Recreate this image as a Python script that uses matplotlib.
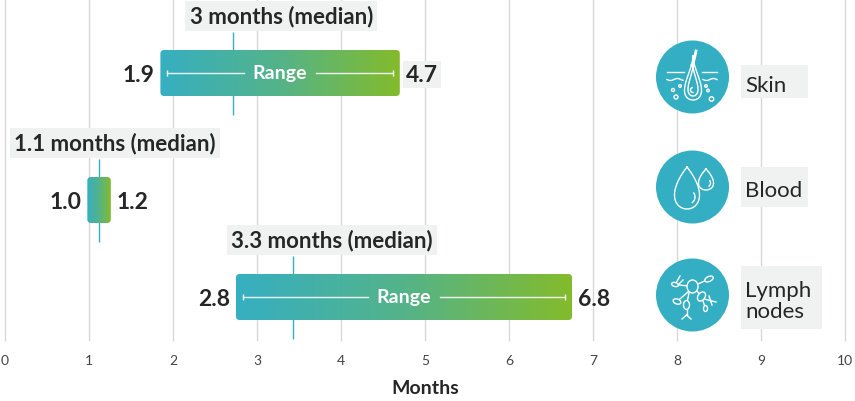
import numpy as np
import matplotlib.pyplot as plt
from matplotlib.patches import FancyBboxPatch, Circle, Ellipse, Rectangle
from matplotlib.colors import LinearSegmentedColormap

plt.rcParams['font.family'] = ['Lato', 'DejaVu Sans']

# data (months)
sites = ['Skin', 'Blood', 'Lymph\nnodes']
range_lo = [1.85, 0.98, 2.75]
range_hi = [4.70, 1.26, 6.75]
medians = [2.71, 1.12, 3.43]
lo_labels = ['1.9', '1.0', '2.8']
hi_labels = ['4.7', '1.2', '6.8']
median_labels = ['3 months (median)', '1.1 months (median)', '3.3 months (median)']
xticks = list(range(0, 11))

# layout (pixels, y down)
W, H = 855, 402
row_y = [74, 201, 298]
icon_y = [78, 188, 296]
label_x = [3.29, 1.31, 3.89]
PX = 84.0  # pixels per month
X0 = 5.0

teal = '#36afc2'
green = '#84bb2b'
icon_c = '#33aec3'
grid_c = '#d8d8d8'
box_c = '#f0f2f2'
dark = '#262626'
cmap = LinearSegmentedColormap.from_list('tg', [teal, '#54b389', green])

fig = plt.figure(figsize=(W / 100, H / 100), dpi=100)
ax = fig.add_axes([0, 0, 1, 1])
ax.axis('off')

ax.vlines(xticks, 0, 342, color=grid_c, lw=1, zorder=0)
for t in xticks:
    ax.text(t, 361, str(t), ha='center', va='center', fontsize=10, color='#444444')
ax.text(5, 389, 'Months', ha='center', va='center', fontsize=14, fontweight='bold', color=dark)

grad = np.linspace(0, 1, 256).reshape(1, -1)
for i in range(3):
    yc = row_y[i]
    lo, hi, med = range_lo[i], range_hi[i], medians[i]
    ax.vlines(med, yc - 41, yc + 42, color=teal, lw=1, zorder=1)
    bar = FancyBboxPatch((lo, yc - 23), hi - lo, 46,
                         boxstyle='round,pad=0,rounding_size=0.045',
                         mutation_aspect=PX, fc='none', ec='none', zorder=2)
    ax.add_patch(bar)
    im = ax.imshow(grad, cmap=cmap, extent=[lo, hi, yc + 23, yc - 23],
                   aspect='auto', zorder=2, interpolation='bilinear')
    im.set_clip_path(bar)

    # range marker inside wide bars
    if hi - lo > 1:
        a = lo + 7 / PX
        b = hi - 7 / PX
        mid = (lo + hi) / 2
        gap = 36 / PX
        ax.plot([a, mid - gap], [yc, yc], color='white', lw=1, alpha=0.9, zorder=3)
        ax.plot([mid + gap, b], [yc, yc], color='white', lw=1, alpha=0.9, zorder=3)
        ax.vlines([a, b], yc - 3, yc + 3, color='white', lw=1, alpha=0.9, zorder=3)
        ax.text(mid, yc, 'Range', ha='center', va='center', color='white',
                fontsize=14, fontweight='bold', zorder=4)

    ax.text(lo - 6 / PX, yc + 1.5, lo_labels[i], ha='right', va='center',
            fontsize=16.5, fontweight='bold', color=dark)
    hb = dict(boxstyle='square,pad=0.12', fc=box_c, ec='none') if i == 0 else None
    ax.text(hi + 6 / PX, yc + 1.5, hi_labels[i], ha='left', va='center',
            fontsize=16.5, fontweight='bold', color=dark, bbox=hb)
    ax.text(label_x[i], yc - 57, median_labels[i], ha='center', va='center',
            fontsize=16, fontweight='bold', color=dark,
            bbox=dict(boxstyle='square,pad=0.2', fc=box_c, ec='none'))

ax.set_xlim(-X0 / PX, (W - X0) / PX)
ax.set_ylim(H, 0)

# icons in a pixel-space overlay
ix = fig.add_axes([0, 0, 1, 1])
ix.set_xlim(0, W)
ix.set_ylim(H, 0)
ix.axis('off')
ix.patch.set_alpha(0)

cx, r = 692.5, 36.5
lw_i = 1.0
wc = 'white'
for cy in icon_y:
    ix.add_patch(Circle((cx, cy), r, fc=icon_c, ec='none', zorder=1))


def drop(x, top, bottom, half_w, m=1.0):
    tt = np.linspace(0, 2 * np.pi, 120)
    s = (bottom - top) / 2
    shape = np.sin(tt) * np.abs(np.sin(tt / 2)) ** m
    shape = shape / np.abs(shape).max()
    return x + half_w * shape, top + s - s * np.cos(tt)


# skin icon
ix.plot([667, 684], [72.7, 72.7], color=wc, lw=lw_i, zorder=3)
ix.plot([702, 717], [72.7, 72.7], color=wc, lw=lw_i, zorder=3)
xs = np.linspace(667, 683, 30)
ix.plot(xs, 80.5 + 1.0 * np.sin((xs - 667) / 2.2), color=wc, lw=lw_i, zorder=3)
xs = np.linspace(703, 717, 30)
ix.plot(xs, 80.5 + 1.0 * np.sin((xs - 703) / 2.2), color=wc, lw=lw_i, zorder=3)
fx, fy = drop(693, 57, 101, 8.5, m=2.5)
ix.plot(fx, fy, color=wc, lw=lw_i, zorder=3)
fx, fy = drop(693, 66, 97, 5, m=2.5)
ix.plot(fx, fy, color=wc, lw=lw_i, zorder=3)
tt = np.linspace(0, 1, 30)
ix.plot(692 + 4 * tt ** 0.7, 66 - 14 * tt, color=wc, lw=2, zorder=3)
a = np.linspace(1.6, 4.4, 20)
ix.plot(693 + 2.5 * np.cos(a), 91 + 2.5 * np.sin(a), color=wc, lw=lw_i, zorder=3)
for bx, by, br in [(673, 91, 1.5), (676, 98, 2.0), (680, 87, 1.3),
                   (706, 87, 1.3), (708, 91.5, 1.3), (711.5, 100, 2.2)]:
    ix.add_patch(Circle((bx, by), br, fc='none', ec=wc, lw=lw_i, zorder=3))

# blood icon
dx, dy = drop(687, 168, 210, 12.5)
ix.plot(dx, dy, color=wc, lw=lw_i, zorder=3)
dx, dy = drop(706, 170, 191, 7.5)
ix.plot(dx, dy, color=wc, lw=lw_i, zorder=3)
a = np.linspace(-0.6, 0.9, 20)
ix.plot(688 + 7 * np.cos(a), 198 + 7 * np.sin(a), color=wc, lw=lw_i, zorder=3)
ix.plot(706.5 + 4 * np.cos(a), 184 + 4 * np.sin(a), color=wc, lw=lw_i, zorder=3)

# lymph nodes icon
hub = (692.5, 287.5)
nodes = [(675, 285.5, 7, 4, 15), (709, 280, 9, 5, -25), (677, 302.5, 8, 5, 20),
         (686.5, 306, 6, 9, 0), (701.5, 297.5, 7, 10, 35), (705.5, 309.5, 4, 6, 0)]
links = [(hub, (675, 285.5)), (hub, (709, 280)), ((688, 293), (677, 302.5)),
         ((689, 294), (686.5, 306)), ((697, 292), (701.5, 297.5)),
         ((703, 302), (705.5, 309.5)), ((676, 284), (680, 277)), ((678, 286), (683, 281)),
         ((686.5, 310.5), (686.5, 316)), ((686.5, 316), (682, 320)),
         ((686.5, 316), (691, 320)), ((704, 300), (716, 303)), ((709, 297), (712, 306))]
for p, q in links:
    ix.plot([p[0], q[0]], [p[1], q[1]], color=wc, lw=lw_i, zorder=2)
ix.add_patch(Ellipse(hub, 11, 13, fc=icon_c, ec=wc, lw=lw_i, zorder=3))
for nx, ny, w, h, ang in nodes:
    ix.add_patch(Ellipse((nx, ny), w, h, angle=ang, fc=icon_c, ec=wc, lw=lw_i, zorder=3))

# site labels with grey boxes
box_rects = [(741, 66, 67, 33), (741, 168, 67, 40), (741, 267, 81, 63)]
for i, (bx, by, bw, bh) in enumerate(box_rects):
    ix.add_patch(Rectangle((bx, by), bw, bh, fc=box_c, ec='none'))
    ix.text(bx + 4, by + bh / 2 + 3, sites[i], ha='left', va='center', fontsize=16,
            color=dark, linespacing=1.05)

fig.savefig('out.png', dpi=100)
